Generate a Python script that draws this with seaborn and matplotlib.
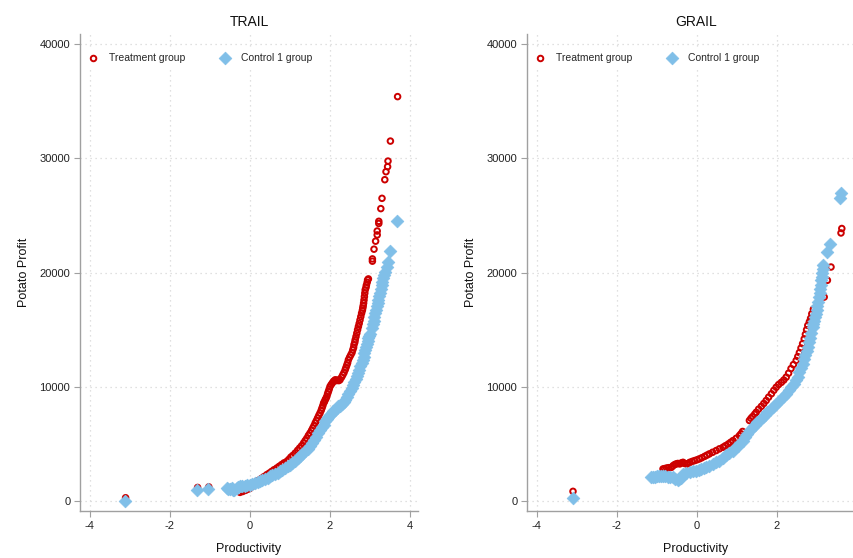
import numpy as np
import pandas as pd
import matplotlib
matplotlib.use("Agg")
import matplotlib.pyplot as plt
import seaborn as sns

sns.set_style("white")
plt.rcParams["font.family"] = ["Liberation Sans", "DejaVu Sans"]
plt.rcParams["axes.unicode_minus"] = False

# values
trail_treat_x = [-3.10, -1.30, -1.02, -0.24, -0.17, -0.10, -0.05, 0.00, 0.05, 0.10, 0.14, 0.18,
                 0.24, 0.30, 0.36, 0.43, 0.49, 0.55, 0.61, 0.68, 0.74, 0.80, 0.86, 0.93, 0.98,
                 1.03, 1.08, 1.14, 1.20, 1.25, 1.30, 1.35, 1.39, 1.43, 1.47, 1.51, 1.55, 1.58,
                 1.61, 1.64, 1.67, 1.70, 1.73, 1.76, 1.79, 1.81, 1.83, 1.85, 1.87, 1.89, 1.91,
                 1.93, 1.95, 1.97, 1.99, 2.01, 2.04, 2.07, 2.10, 2.14, 2.17, 2.20, 2.23, 2.26,
                 2.30, 2.33, 2.36, 2.39, 2.41, 2.43, 2.45, 2.47, 2.50, 2.53, 2.56, 2.58, 2.60,
                 2.61, 2.63, 2.64, 2.66, 2.68, 2.70, 2.72, 2.74, 2.76, 2.78, 2.80, 2.82, 2.83,
                 2.84, 2.85, 2.86, 2.87, 2.88, 2.89, 2.91, 2.92, 2.94, 2.95, 2.97, 3.07, 3.07,
                 3.11, 3.15, 3.19, 3.19, 3.23, 3.23, 3.28, 3.31, 3.38, 3.41, 3.45, 3.46, 3.52,
                 3.70]
trail_treat_y = [300, 1200, 1250, 770, 850, 950, 1050, 1100, 1250, 1400, 1550, 1730,
                 1850, 2000, 2150, 2320, 2450, 2600, 2750, 2900, 3050, 3200, 3350, 3480, 3650,
                 3850, 4000, 4210, 4450, 4650, 4850, 5090, 5300, 5500, 5750, 5960, 6200, 6400,
                 6600, 6840, 7050, 7280, 7500, 7710, 7950, 8150, 8350, 8580, 8700, 8870, 9000,
                 9160, 9400, 9600, 9800, 10030, 10200, 10350, 10500, 10620, 10550, 10600, 10550, 10620,
                 10850, 11050, 11250, 11500, 11700, 11900, 12100, 12370, 12600, 12800, 13000, 13240, 13450,
                 13700, 13900, 14120, 14400, 14700, 15000, 15280, 15550, 15850, 16150, 16450, 16700, 16900,
                 17100, 17330, 17600, 17900, 18200, 18490, 18700, 18900, 19150, 19360, 19450, 21000, 21200,
                 22050, 22750, 23300, 23640, 24300, 24490, 25600, 26500, 28130, 28830, 29270, 29760, 31510,
                 35400]

trail_ctrl_x = [-3.11, -1.32, -1.03, -0.57, -0.53, -0.50, -0.45, -0.41, -0.38, -0.32, -0.28, -0.24,
                -0.18, -0.12, -0.06, 0.01, 0.07, 0.13, 0.20, 0.26, 0.32, 0.38, 0.45, 0.51, 0.57,
                0.63, 0.70, 0.76, 0.82, 0.88, 0.95, 1.01, 1.07, 1.13, 1.20, 1.26, 1.32, 1.38,
                1.45, 1.51, 1.56, 1.61, 1.67, 1.72, 1.76, 1.80, 1.85, 1.89, 1.93, 1.97, 2.01,
                2.05, 2.09, 2.13, 2.18, 2.22, 2.26, 2.30, 2.35, 2.39, 2.43, 2.47, 2.51, 2.55,
                2.58, 2.62, 2.65, 2.68, 2.71, 2.74, 2.77, 2.80, 2.83, 2.85, 2.87, 2.89, 2.91,
                2.93, 2.95, 2.97, 2.99, 3.01, 3.05, 3.08, 3.10, 3.12, 3.14, 3.16, 3.18, 3.20,
                3.22, 3.24, 3.26, 3.28, 3.30, 3.32, 3.34, 3.36, 3.39, 3.43, 3.47, 3.52, 3.69]
trail_ctrl_y = [-20, 1000, 1090, 1150, 1050, 1050, 1150, 1000, 1000, 1150, 1200, 1290,
                1300, 1350, 1400, 1440, 1500, 1580, 1650, 1730, 1850, 1950, 2050, 2170, 2280,
                2380, 2500, 2600, 2750, 2900, 3050, 3190, 3350, 3550, 3750, 3920, 4150, 4350,
                4550, 4790, 5050, 5350, 5650, 5960, 6200, 6450, 6700, 6980, 7150, 7350, 7550,
                7710, 7850, 8000, 8150, 8290, 8350, 8500, 8650, 8870, 9100, 9350, 9600, 9900,
                10150, 10400, 10650, 10910, 11200, 11500, 11800, 12080, 12350, 12650, 12950, 13240, 13500,
                13750, 14000, 14270, 14450, 14600, 15140, 15500, 15800, 16100, 16450, 16750, 17050, 17350,
                17610, 17950, 18250, 18600, 18930, 19200, 19500, 19800, 20090, 20520, 20960, 21920, 24520]

grail_treat_x = [-3.09, -0.84, -0.80, -0.75, -0.70, -0.63, -0.59, -0.55, -0.51, -0.47, -0.42, -0.38,
                 -0.34, -0.30, -0.25, -0.21, -0.17, -0.11, -0.05, 0.01, 0.07, 0.13, 0.20, 0.26,
                 0.32, 0.40, 0.49, 0.57, 0.66, 0.72, 0.79, 0.85, 0.91, 0.99, 1.07, 1.11, 1.15,
                 1.32, 1.36, 1.40, 1.45, 1.49, 1.55, 1.62, 1.68, 1.74, 1.80, 1.87, 1.93, 1.99,
                 2.05, 2.12, 2.18, 2.24, 2.30, 2.36, 2.42, 2.49, 2.53, 2.57, 2.61, 2.65, 2.69,
                 2.72, 2.75, 2.78, 2.82, 2.85, 2.88, 2.92, 3.19, 3.27, 3.36, 3.61, 3.63]
grail_treat_y = [860, 2820, 2850, 2900, 2930, 2960, 3100, 3200, 3260, 3300, 3260, 3350,
                 3400, 3300, 3250, 3300, 3400, 3480, 3550, 3620, 3700, 3800, 3920, 4030,
                 4140, 4280, 4430, 4580, 4720, 4850, 5000, 5150, 5300, 5500, 5740, 5900, 6100,
                 7060, 7250, 7400, 7600, 7780, 8050, 8300, 8550, 8810, 9100, 9400, 9700, 9970,
                 10200, 10400, 10600, 10850, 11200, 11600, 11950, 12310, 12650, 13000, 13400, 13780, 14200,
                 14600, 15000, 15380, 15700, 16000, 16400, 16800, 17860, 19330, 20490, 23470, 23860]

grail_ctrl_x = [-3.09, -1.13, -1.09, -1.05, -1.00, -0.95, -0.90, -0.84, -0.78, -0.72, -0.66, -0.59,
                -0.53, -0.47, -0.43, -0.40, -0.37, -0.34, -0.26, -0.17, -0.09, -0.01, 0.06, 0.12,
                0.18, 0.24, 0.32, 0.40, 0.48, 0.57, 0.65, 0.74, 0.82, 0.91, 0.97, 1.03, 1.09,
                1.15, 1.21, 1.27, 1.33, 1.40, 1.46, 1.52, 1.58, 1.65, 1.71, 1.77, 1.83, 1.90,
                1.98, 2.07, 2.15, 2.24, 2.30, 2.37, 2.43, 2.49, 2.53, 2.57, 2.61, 2.65, 2.68,
                2.72, 2.75, 2.78, 2.81, 2.84, 2.87, 2.90, 2.92, 2.94, 2.96, 2.98, 3.00, 3.02,
                3.04, 3.07, 3.08, 3.09, 3.10, 3.11, 3.13, 3.14, 3.16, 3.17, 3.27, 3.33, 3.58,
                3.62]
grail_ctrl_y = [280, 2090, 2120, 2150, 2170, 2200, 2210, 2230, 2200, 2150, 2120, 2090,
                1950, 1850, 1900, 2050, 2200, 2380, 2450, 2530, 2600, 2670, 2730, 2800,
                2880, 2960, 3100, 3250, 3400, 3550, 3780, 4000, 4200, 4430, 4650, 4850, 5050,
                5300, 5600, 5900, 6200, 6470, 6700, 6900, 7100, 7340, 7550, 7780, 8000, 8220,
                8500, 8800, 9100, 9400, 9700, 10000, 10280, 10560, 10900, 11300, 11650, 12020, 12400,
                12750, 13100, 13480, 13900, 14300, 14750, 15230, 15500, 15800, 16100, 16410, 16750, 17100,
                17450, 17860, 18200, 18600, 18950, 19330, 19650, 20000, 20300, 20640, 21810, 22540, 26490,
                26980]

RED = "#cc0000"
BLUE = "#80bfe8"


def draw_panel(ax, title, tx, ty, cx, cy):
    treat = pd.DataFrame({"x": tx, "y": ty})
    ctrl = pd.DataFrame({"x": cx, "y": cy})
    sns.scatterplot(data=treat, x="x", y="y", ax=ax, marker="o", s=16, color=RED,
                    facecolor="none", edgecolor=RED, linewidth=1.4, label="Treatment group")
    sns.scatterplot(data=ctrl, x="x", y="y", ax=ax, marker="D", s=42, color=BLUE,
                    edgecolor=BLUE, linewidth=0.5, label="Control 1 group")

    ax.set_xlim(-4.24, 4.21)
    ax.set_ylim(-860, 40880)
    ax.set_xticks([-4, -2, 0, 2, 4])
    ax.set_yticks([0, 10000, 20000, 30000, 40000])
    ax.grid(True, color="#d6d6d6", linestyle=(0, (1, 3)), linewidth=0.9)
    ax.set_axisbelow(True)
    for side in ["top", "right"]:
        ax.spines[side].set_visible(False)
    for side in ["left", "bottom"]:
        ax.spines[side].set_color("#a0a0a0")
        ax.spines[side].set_linewidth(1.0)
    ax.tick_params(axis="both", direction="out", length=4, width=0.8, color="#a0a0a0",
                   labelsize=8, labelcolor="#222222", pad=3, left=True, bottom=True)

    ax.set_title(title, fontsize=10, pad=6, color="#111111")
    ax.set_xlabel("Productivity", fontsize=9, labelpad=9, color="#111111")
    ax.set_ylabel("Potato Profit", fontsize=9, labelpad=7, color="#111111")

    leg = ax.legend(loc="upper left", bbox_to_anchor=(0.0, 0.975), ncol=2, fontsize=7.5,
                    frameon=True, fancybox=False, edgecolor="white", facecolor="white",
                    framealpha=1, borderaxespad=0.3, columnspacing=3.2, handletextpad=0.9,
                    markerscale=1.0, handlelength=1.2)
    leg.get_frame().set_linewidth(0)


fig = plt.figure(figsize=(8.54, 5.58), dpi=100)
ax1 = fig.add_axes([80 / 854, 47 / 558, 338 / 854, 477 / 558])
ax2 = fig.add_axes([527 / 854, 47 / 558, 338 / 854, 477 / 558])

draw_panel(ax1, "TRAIL", trail_treat_x, trail_treat_y, trail_ctrl_x, trail_ctrl_y)
draw_panel(ax2, "GRAIL", grail_treat_x, grail_treat_y, grail_ctrl_x, grail_ctrl_y)
# the right panel runs past the figure edge, as in the source image
ax2.set_xticklabels(["-4", "-2", "0", "2", ""])

fig.savefig("out.png", dpi=100)
